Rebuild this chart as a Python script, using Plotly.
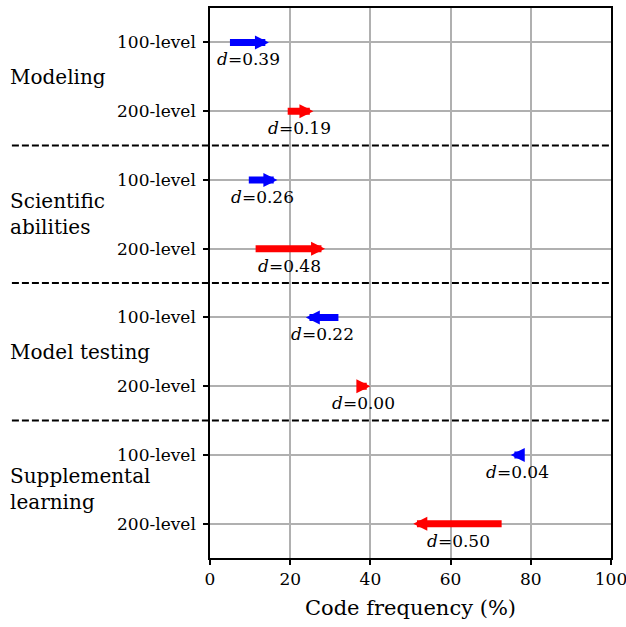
import plotly.graph_objects as go

# Study codes and course levels
groups = ["Modeling", "Scientific<br>abilities", "Model testing", "Supplemental<br>learning"]
levels = ["100-level", "200-level"]

# Code frequency (%) at the start (tail) and end (tip) of each shift
start_100 = [4.6, 9.3, 32.4, 78.4]
end_100 = [14.7, 16.8, 23.9, 75.0]
start_200 = [19.0, 11.0, 36.4, 73.1]
end_200 = [25.8, 28.7, 40.0, 50.7]

# Effect sizes
d_100 = [0.39, 0.26, 0.22, 0.04]
d_200 = [0.19, 0.48, 0.00, 0.50]

x_ticks = [0, 20, 40, 60, 80, 100]

FONT = "DejaVu Serif"
level_colors = {"100-level": "#0000ff", "200-level": "#ff0000"}

rows = []  # (y position, level, start, end, d)
for i in range(len(groups)):
    rows.append((2 * i, levels[0], start_100[i], end_100[i], d_100[i]))
    rows.append((2 * i + 1, levels[1], start_200[i], end_200[i], d_200[i]))

fig = go.Figure()

# invisible anchor points so the axes carry the data
fig.add_trace(go.Scatter(
    x=[r[2] for r in rows] + [r[3] for r in rows],
    y=[r[0] for r in rows] * 2,
    mode="markers", marker=dict(opacity=0), hoverinfo="skip", showlegend=False,
))

ARROW_W = 7
ARROW_SIZE = 0.4

annotations = []
for y, lvl, s, e, d in rows:
    annotations.append(dict(
        x=e, y=y, ax=s, ay=y, xref="x", yref="y", axref="x", ayref="y",
        showarrow=True, arrowhead=2, arrowwidth=ARROW_W, arrowsize=ARROW_SIZE,
        arrowcolor=level_colors[lvl], standoff=0, text="",
    ))
    annotations.append(dict(
        x=(s + e) / 2, y=y, xref="x", yref="y", showarrow=False,
        text=f"<i>d</i>={d:.2f}", yshift=-17,
        font=dict(family=FONT, size=17, color="black"),
    ))

for i, g in enumerate(groups):
    annotations.append(dict(
        x=-0.504, y=2 * i + 0.5, xref="paper", yref="y", showarrow=False,
        text=g, xanchor="left", yanchor="middle", align="left",
        font=dict(family=FONT, size=20, color="black"),
    ))

shapes = []
for i in range(1, len(groups)):
    shapes.append(dict(
        type="line", xref="paper", yref="y", x0=-0.494, x1=1,
        y0=2 * i - 0.5, y1=2 * i - 0.5,
        line=dict(color="black", width=1.8, dash="7px,3px"),
    ))

fig.update_layout(
    width=626, height=627,
    margin=dict(l=210, r=15, t=8, b=69),
    paper_bgcolor="white", plot_bgcolor="white",
    annotations=annotations, shapes=shapes,
    showlegend=False,
    font=dict(family=FONT, color="black"),
)

fig.update_xaxes(
    range=[0, 100], tickvals=x_ticks, ticktext=[str(v) for v in x_ticks],
    showgrid=True, gridcolor="#b0b0b0", gridwidth=1.5,
    showline=True, mirror=True, linecolor="black", linewidth=1.5,
    ticks="outside", ticklen=5, tickwidth=1.5, tickcolor="black",
    tickfont=dict(family=FONT, size=17, color="black"),
    ticklabeloverflow="allow",
    title=dict(text="Code frequency (%)", font=dict(family=FONT, size=21, color="black"), standoff=12),
    zeroline=False, automargin=False,
)

fig.update_yaxes(
    range=[7.5, -0.5], tickvals=[r[0] for r in rows], ticktext=[r[1] for r in rows],
    showgrid=True, gridcolor="#b0b0b0", gridwidth=1.5,
    showline=True, mirror=True, linecolor="black", linewidth=1.5,
    ticks="outside", ticklen=5, tickwidth=1.5, tickcolor="black",
    tickfont=dict(family=FONT, size=17, color="black"),
    ticklabelstandoff=4,
    zeroline=False, automargin=False,
)

fig.write_html("out.html")
